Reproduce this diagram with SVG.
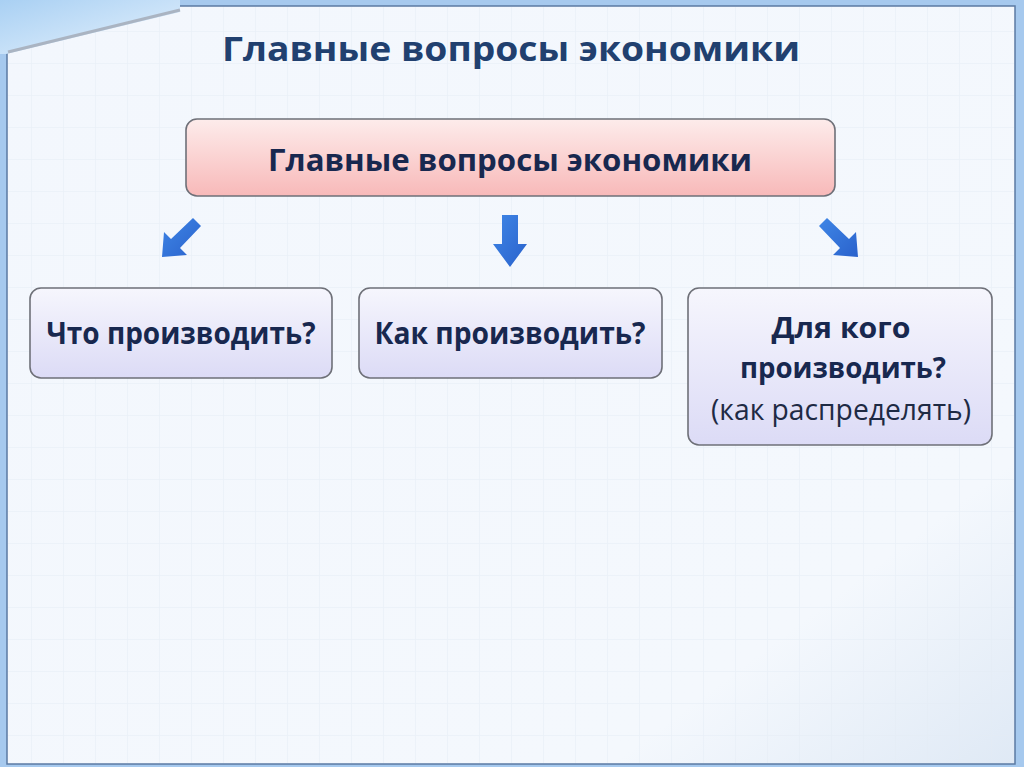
<svg xmlns="http://www.w3.org/2000/svg" width="1024" height="767" viewBox="0 0 1024 767">
<defs>
<style>
.b{font-family:"Open Sans","Noto Sans",sans-serif;font-weight:700;fill:#18284f}
.r{font-family:"Open Sans","Noto Sans",sans-serif;font-weight:400;fill:#1e2a44}
.box{stroke:#6e7078;stroke-width:1.6}
.arr{fill:url(#ag)}
</style>
<linearGradient id="bg" x1="0" y1="0" x2="1" y2="1">
<stop offset="0" stop-color="#f3f7fd"/><stop offset="0.8" stop-color="#f4f8fd"/><stop offset="1" stop-color="#dfe9f5"/>
</linearGradient>
<linearGradient id="pink" x1="0" y1="0" x2="0" y2="1">
<stop offset="0" stop-color="#fdeceb"/><stop offset="1" stop-color="#f8b9b9"/>
</linearGradient>
<linearGradient id="lav" x1="0" y1="0" x2="0" y2="1">
<stop offset="0" stop-color="#f6f6fd"/><stop offset="1" stop-color="#dcdbf6"/>
</linearGradient>
<linearGradient id="ag" x1="0" y1="0" x2="1" y2="1">
<stop offset="0" stop-color="#3f86e6"/><stop offset="1" stop-color="#2a62cc"/>
</linearGradient>
<linearGradient id="fold" x1="0" y1="0" x2="1" y2="1">
<stop offset="0" stop-color="#a9d0f3"/><stop offset="1" stop-color="#e6f2fd"/>
</linearGradient>
<pattern id="grid" width="32" height="32" patternUnits="userSpaceOnUse">
<path d="M32 0V32M0 32H32" stroke="#e4ebf5" stroke-width="1.5" fill="none"/>
</pattern>
</defs>
<rect width="1024" height="767" fill="#a6c9ee"/>
<rect x="7" y="6" width="1008" height="758" fill="url(#bg)" stroke="#5b7aa3" stroke-width="1.5"/>
<rect x="8" y="7" width="1006" height="756" fill="url(#grid)" opacity="0.6"/>
<g id="corner">
<polygon points="0,0 180,0 180,12 6,54 0,54" fill="url(#fold)"/>
<polyline points="180,10 8,52" fill="none" stroke="#aab4c2" stroke-width="3"/>
</g>
<text class="b" x="511" y="61" font-size="34" text-anchor="middle" textLength="578" lengthAdjust="spacingAndGlyphs" style="fill:#21406f">Главные вопросы экономики</text>
<g id="main">
<rect class="box" x="186" y="119" width="649" height="77" rx="11" fill="url(#pink)"/>
<text class="b" x="510" y="171" font-size="30" text-anchor="middle" textLength="484" lengthAdjust="spacingAndGlyphs">Главные вопросы экономики</text>
</g>
<g id="what">
<rect class="box" x="30" y="288" width="302" height="90" rx="11" fill="url(#lav)"/>
<text class="b" x="181" y="344" font-size="30" text-anchor="middle" textLength="269" lengthAdjust="spacingAndGlyphs">Что производить?</text>
</g>
<g id="how">
<rect class="box" x="359" y="288" width="303" height="90" rx="11" fill="url(#lav)"/>
<text class="b" x="510" y="344" font-size="30" text-anchor="middle" textLength="271" lengthAdjust="spacingAndGlyphs">Как производить?</text>
</g>
<g id="whom">
<rect class="box" x="688" y="288" width="304" height="157" rx="11" fill="url(#lav)"/>
<text class="b" x="841" y="338" font-size="29" text-anchor="middle" textLength="139" lengthAdjust="spacingAndGlyphs">Для кого</text>
<text class="b" x="843" y="378" font-size="29" text-anchor="middle" textLength="206" lengthAdjust="spacingAndGlyphs">производить?</text>
<text class="r" x="841" y="420" font-size="29" text-anchor="middle" textLength="260" lengthAdjust="spacingAndGlyphs">(как распределять)</text>
</g>
<g id="connectors">
<polygon class="arr" points="193,218 201,226 180,248 187,255 162,257 164,232 171,239"/>
<polygon class="arr" points="502,215 518,215 518,244 527,244 510,267 493,244 502,244"/>
<polygon class="arr" points="827,218 819,226 840,248 833,255 858,257 856,232 849,239"/>
</g>
</svg>
